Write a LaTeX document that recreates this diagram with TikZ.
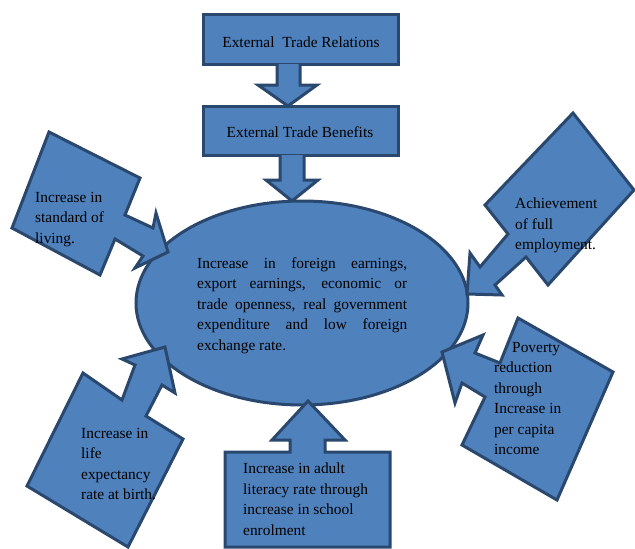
\documentclass[tikz,border=0pt]{standalone}
\usepackage{fontspec}
\setmainfont{Liberation Serif}
\usepackage{tikz}
\definecolor{bfill}{RGB}{79,129,189}
\definecolor{bline}{RGB}{42,72,110}
\tikzset{
  blk/.style={draw=bline, fill=bfill, line width=3pt, line join=miter},
  txt/.style={inner sep=0pt, anchor=north west, align=left, font=\fontsize{15.4}{20.5}\selectfont, text=black},
}
\begin{document}
\begin{tikzpicture}[x=1pt,y=-1pt]
\useasboundingbox (0,0) rectangle (635,549);
% top boxes and arrows
\draw[blk] (203,14) rectangle (398,64);
\draw[blk] (277,64) -- (277,85) -- (258,85) -- (288,106) -- (317,85) -- (300,85) -- (300,64);
\draw[blk] (203,106) rectangle (398,155);
\draw[blk] (280,155) -- (280,180) -- (266,180) -- (292,201) -- (318,180) -- (304,180) -- (304,155);
\node[inner sep=0pt, font=\fontsize{15.4}{18}\selectfont] (rel) at (301,42) {External\ \ Trade Relations};
\node[inner sep=0pt, font=\fontsize{15.4}{18}\selectfont] (ben) at (300,132) {External Trade Benefits};
% central ellipse
\draw[blk] (302,303) ellipse [x radius=166, y radius=102];
\node[txt] (core) at (197,257) {%
\makebox[210pt][s]{Increase in foreign earnings,}\\
\makebox[210pt][s]{export earnings, economic or}\\
\makebox[210pt][s]{trade openness, real government}\\
\makebox[210pt][s]{expenditure and low foreign}\\
exchange rate.};
% top-left
\draw[blk] (49,132) -- (140,178) -- (125,215) -- (153,228) -- (156,213) -- (168,252)
  -- (135,268) -- (143,256) -- (115,239) -- (100,275) -- (12,228) -- cycle;
\node[txt] (sol) at (35,192) {Increase in\\standard of\\living.};
% top-right
\draw[blk] (573,113) -- (634,190) -- (548,285) -- (526,257) -- (495,285) -- (502,295)
  -- (467,294) -- (470,253) -- (480,267) -- (508,234) -- (485,205) -- cycle;
\node[txt] (emp) at (515,198) {Achievement\\of full\\employment.};
% bottom-right
\draw[blk] (518,318) -- (613,372) -- (557,500) -- (462,445) -- (485,397) -- (462,383)
  -- (455,403) -- (442,352) -- (483,335) -- (475,353) -- (500,363) -- cycle;
\node[txt] (pov) at (494,342) {\hspace*{18pt}Poverty\\reduction\\through\\Increase in\\per capita\\income};
% bottom-left
\draw[blk] (83,373) -- (122,400) -- (135,365) -- (122,359) -- (165,347) -- (175,393)
  -- (162,385) -- (146,416) -- (183,439) -- (128,547) -- (27,486) -- cycle;
\node[txt] (life) at (81,428) {Increase in\\life\\expectancy\\rate at birth.};
% bottom
\draw[blk] (225,547) -- (225,452) -- (290,452) -- (290,440) -- (272,440) -- (308,401)
  -- (345,440) -- (325,440) -- (325,452) -- (390,452) -- (390,547) -- cycle;
\node[txt] (lit) at (243,463) {Increase in adult\\literacy rate through\\increase in school\\enrolment};
\end{tikzpicture}
\end{document}
